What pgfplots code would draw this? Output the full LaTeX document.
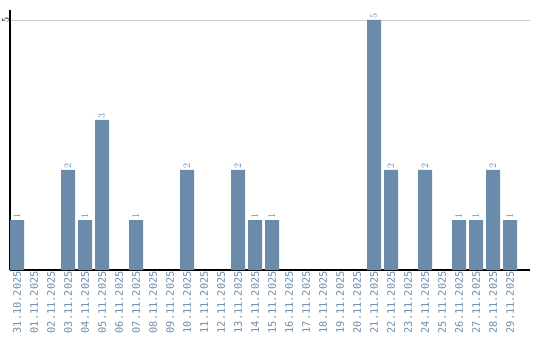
\documentclass[border=0pt]{standalone}
\usepackage{pgfplots}
\pgfplotsset{compat=1.18}
\usepackage{fontspec}
\setmonofont{DejaVu Sans Mono}
\definecolor{barc}{RGB}{106,139,170}
\definecolor{txtc}{RGB}{106,139,170}
\begin{document}
\begin{tikzpicture}[x=1pt,y=1pt]
\useasboundingbox (0,0) rectangle (540,340);
\begin{axis}[
  at={(10pt,70pt)}, anchor=south west,
  scale only axis, width=520pt, height=260pt,
  xmin=-0.4118, xmax=30.176, ymin=0, ymax=5.2,
  axis x line*=bottom, axis y line*=left,
  axis line style={black, line width=1.1pt, -},
  xtick={0,...,29},
  xticklabels={31.10.2025,01.11.2025,02.11.2025,03.11.2025,04.11.2025,05.11.2025,06.11.2025,07.11.2025,08.11.2025,09.11.2025,10.11.2025,11.11.2025,12.11.2025,13.11.2025,14.11.2025,15.11.2025,16.11.2025,17.11.2025,18.11.2025,19.11.2025,20.11.2025,21.11.2025,22.11.2025,23.11.2025,24.11.2025,25.11.2025,26.11.2025,27.11.2025,28.11.2025,29.11.2025},
  xticklabel style={rotate=90, anchor=east, font=\ttfamily\fontsize{10.3}{11}\selectfont, text=txtc, inner sep=1pt},
  ytick={5},
  yticklabel style={rotate=90, anchor=south, font=\ttfamily\fontsize{10}{11}\selectfont, text=black, inner sep=1pt},
  major tick length=0pt,
  ymajorgrids, grid style={color=black!20, line width=0.8pt},
  ybar, bar width=14pt, bar shift=0pt,
  nodes near coords,
  every node near coord/.append style={rotate=90, anchor=west, font=\ttfamily\fontsize{10.3}{11}\selectfont, text=txtc, inner sep=1.5pt},
  clip=false,
]
\addplot[fill=barc, draw=none] coordinates {
 (0,1) (3,2) (4,1) (5,3) (7,1) (10,2) (13,2) (14,1) (15,1) (21,5) (22,2) (24,2) (26,1) (27,1) (28,2) (29,1)
};
\end{axis}
\end{tikzpicture}
\end{document}
